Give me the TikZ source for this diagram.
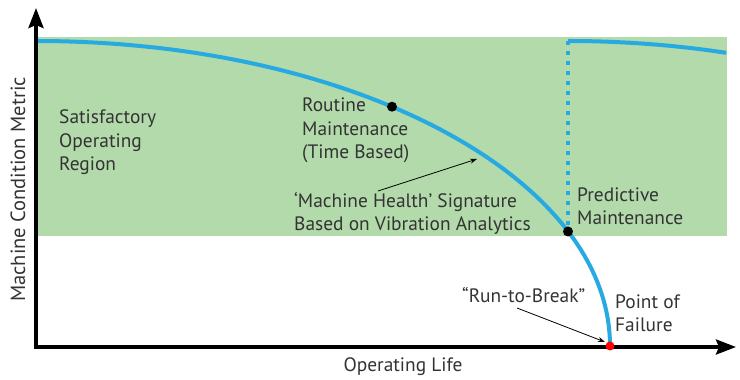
\documentclass[tikz,border=0pt]{standalone}
\usepackage{fontspec}
\setmainfont{PT Sans}
\usetikzlibrary{arrows.meta}
\definecolor{okgreen}{HTML}{B3DAAB}
\definecolor{healthblue}{HTML}{27A9E1}
\definecolor{labelgray}{HTML}{333333}
\tikzset{
  lbl/.style={font=\fontsize{19.4}{23.5}\selectfont, text=labelgray, align=left, anchor=base west, inner sep=0pt},
  axisline/.style={line width=3.5pt, {Stealth[length=20pt,width=15pt,inset=3pt]}-{Stealth[length=20pt,width=15pt,inset=3pt]}},
  healthcurve/.style={healthblue, line width=4pt},
  pointer/.style={line width=0.8pt, -{Stealth[length=7pt,width=5pt]}},
  dot/.style={circle, fill=black, inner sep=0pt, minimum size=10pt},
}

\begin{document}
\begin{tikzpicture}[x=1pt,y=1pt]
  %%%%% START %%%%%
  \useasboundingbox (0,0) rectangle (740,380);
  \fill[okgreen] (36,144) rectangle (727,343);

  % health curve (quarter ellipse) and predictive restart
  \draw[healthcurve] (36,339) arc[start angle=90, end angle=0, x radius=574, y radius=305];
  \draw[healthcurve] (568,339) arc[start angle=90, end angle=74, x radius=574, y radius=305];
  \draw[healthblue, line width=4pt, dash pattern=on 4pt off 6pt] (568,339) -- (568,152);

  % axes
  \draw[axisline] (36,372) -- (36,33) -- (736,33);

  % labels (base = last line)
  \node[lbl] (satisfactory) at (59,209) {Satisfactory\\Operating\\Region};
  \node[lbl] (routine) at (302,221) {Routine\\Maintenance\\(Time Based)};
  \node[lbl] (health) at (294,149) {‘Machine Health’ Signature\\Based on Vibration Analytics};
  \node[lbl] (predictive) at (577,155) {Predictive\\Maintenance};
  \node[lbl] (runbreak) at (462,77) {“Run-to-Break”};
  \node[lbl] (failure) at (615,48) {Point of\\Failure};
  \node[lbl, anchor=base] (xlabel) at (403,8) {Operating Life};
  \node[lbl, anchor=base, rotate=90, font=\fontsize{20.5}{24}\selectfont] (ylabel) at (25,190.5) {Machine Condition Metric};

  % pointers
  \coordinate (healthtail) at (378,189);
  \coordinate (healthtip) at (477,221);
  \coordinate (breaktail) at (517,72);
  \coordinate (breaktip) at (605,38);
  \draw[pointer] (healthtail) -- (healthtip);
  \draw[pointer] (breaktail) -- (breaktip);

  % dots
  \node[dot] (routinedot) at (392,273.3) {};
  \node[dot] (predictdot) at (568,148.5) {};
  \node[dot, fill=red, minimum size=9pt] (faildot) at (610,34) {};
  %%%%% END %%%%%
\end{tikzpicture}
\end{document}
